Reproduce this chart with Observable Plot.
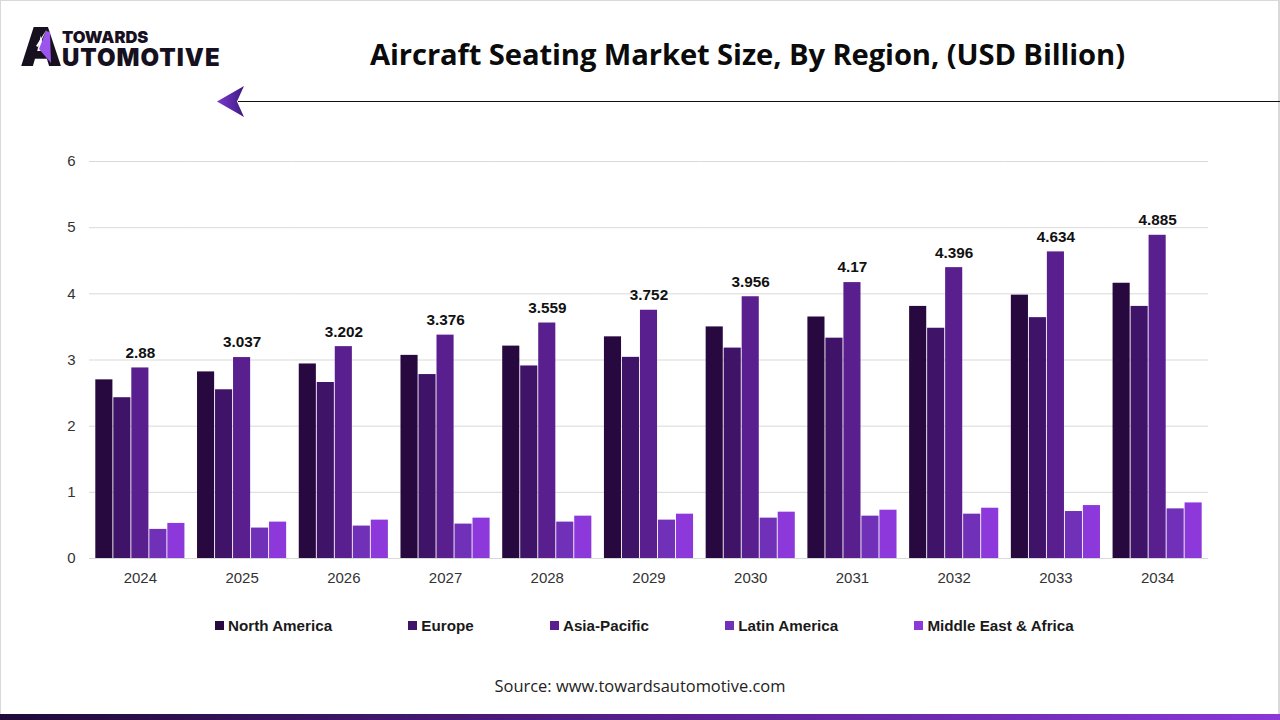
<!DOCTYPE html>
<html>
<head>
<meta charset="utf-8">
<script src="https://cdn.jsdelivr.net/npm/d3@7"></script>
<script src="https://cdn.jsdelivr.net/npm/@observablehq/plot@0.6"></script>
<style>
html,body{margin:0;padding:0;background:#fff;}
#page{position:relative;width:1280px;height:720px;overflow:hidden;background:#fff;box-sizing:border-box;}
#frame{position:absolute;inset:0;border:solid #d9d9d9;border-width:1px 2px 0 1px;pointer-events:none;}
#header{position:relative;height:120px;}
#title{position:absolute;left:370px;top:34px;margin:0;font:700 29.2px "Open Sans",sans-serif;color:#0b0b0b;white-space:nowrap;letter-spacing:-.1px;}
#logo span{position:absolute;font-family:Inter,sans-serif;font-weight:900;color:#17101f;white-space:nowrap;line-height:1;}
#chart{position:relative;}
#chart svg{display:block;}
#legend{position:absolute;top:615px;left:215px;display:flex;gap:76.25px;font:700 15.2px "Liberation Sans",sans-serif;color:#1a1a1a;white-space:nowrap;}
#legend div{display:flex;align-items:center;gap:4px;height:20px;}
#legend i{display:block;width:9px;height:9px;}
#source{position:absolute;top:674px;left:0;width:1280px;text-align:center;font:16.45px "Open Sans",sans-serif;color:#222;}
#bottom{position:absolute;left:0;right:0;top:714px;height:6px;background:linear-gradient(90deg,#1f0a38,#4a1a7d 40%,#8a38d8);}
</style>
</head>
<body>
<div id="page">
  <div id="frame"></div>
  <div id="header">
    <div id="logo">
      <span style="left:20px;top:21px;font-size:53px;">A</span>
      <svg width="70" height="70" style="position:absolute;left:0;top:0">
        <polygon points="46,31 50,32 51,63 39,49" fill="#9b55ec"/>
        <polygon points="38,47 46,31 47,29 36,46" fill="#fff"/>
      </svg>
      <span style="left:62px;top:29px;font-size:16.5px;">TOWARDS</span>
      <span style="left:62px;top:46px;font-size:24px;letter-spacing:1px;">UTOMOTIVE</span>
    </div>
    <h1 id="title">Aircraft Seating Market Size, By Region, (USD Billion)</h1>
    <svg width="1280" height="120" style="position:absolute;left:0;top:0">
      <defs><linearGradient id="ag" x1="0" x2="1"><stop offset="0" stop-color="#7a3ad0"/><stop offset="1" stop-color="#3f1a80"/></linearGradient></defs>
      <line x1="238" x2="1280" y1="101.5" y2="101.5" stroke="#111" stroke-width="1"/>
      <polygon points="217,101.5 244,86 237,101.5 244,117" fill="url(#ag)"/>
    </svg>
  </div>
  <div id="chart"></div>
  <div id="legend"></div>
  <div id="source">Source: www.towardsautomotive.com</div>
  <div id="bottom"></div>
</div>
<script>
const years = [2024,2025,2026,2027,2028,2029,2030,2031,2032,2033,2034];
const regions = ["North America","Europe","Asia-Pacific","Latin America","Middle East & Africa"];
const colors = ["#27083f","#3f1368","#5a1f8e","#7030b8","#8c38da"];
const northAmerica = [2.70,2.82,2.94,3.07,3.21,3.35,3.50,3.65,3.81,3.98,4.16];
const europe = [2.43,2.55,2.66,2.78,2.91,3.04,3.18,3.33,3.48,3.64,3.81];
const asiaPacific = [2.88,3.037,3.202,3.376,3.559,3.752,3.956,4.17,4.396,4.634,4.885];
const latinAmerica = [0.44,0.46,0.49,0.52,0.55,0.58,0.61,0.64,0.67,0.71,0.75];
const middleEastAfrica = [0.53,0.55,0.58,0.61,0.64,0.67,0.70,0.73,0.76,0.80,0.84];
const yTicks = [0,1,2,3,4,5,6];

const series = [northAmerica,europe,asiaPacific,latinAmerica,middleEastAfrica];
const rows = regions.flatMap((region,i)=>years.map((year,j)=>({year,region,value:series[i][j]})));
const labelRows = rows.filter(d=>d.region==="Asia-Pacific");

const chart = Plot.plot({
  width:1280, height:480,
  marginLeft:89, marginRight:72, marginTop:41, marginBottom:42,
  style:{fontFamily:'"Liberation Sans",sans-serif',background:"transparent",overflow:"visible"},
  fx:{domain:years,padding:0,round:false,label:null},
  x:{domain:regions,paddingInner:0.05,paddingOuter:0.35,round:false,axis:null},
  y:{domain:[0,6],label:null},
  color:{domain:regions,range:colors},
  marks:[
    Plot.ruleY(yTicks,{stroke:"#d9d9d9",strokeWidth:1}),
    Plot.barY(rows,{fx:"year",x:"region",y:"value",fill:"region"}),
    Plot.text(labelRows,{fx:"year",x:"region",y:"value",text:d=>String(d.value),dy:-15,fontWeight:700,fontSize:15.3,fill:"#111"}),
    Plot.axisY(yTicks,{tickSize:0,tickPadding:14,fontSize:15,fill:"#333",label:null,tickFormat:d=>String(d)}),
    Plot.axisFx({anchor:"bottom",tickSize:0,tickPadding:14,fontSize:15,fill:"#333",label:null,tickFormat:d=>String(d)})
  ]
});
document.getElementById("chart").append(chart);

const legend = document.getElementById("legend");
regions.forEach((r,i)=>{
  const item=document.createElement("div");
  const sw=document.createElement("i"); sw.style.background=colors[i];
  const t=document.createElement("span"); t.textContent=r;
  item.append(sw,t); legend.append(item);
});
</script>
</body>
</html>
